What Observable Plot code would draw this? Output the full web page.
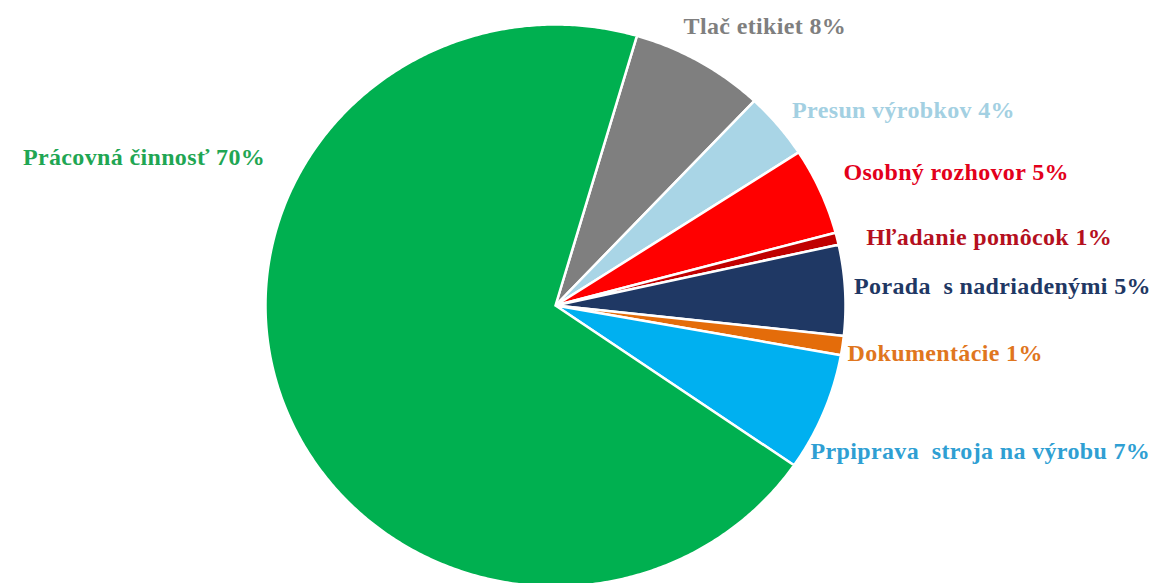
<!DOCTYPE html>
<html>
<head>
<meta charset="utf-8">
<script src="https://cdn.jsdelivr.net/npm/d3@7"></script>
<script src="https://cdn.jsdelivr.net/npm/@observablehq/plot@0.6"></script>
<style>
  html, body { margin: 0; padding: 0; background: #fff; }
  #chart { width: 1159px; height: 583px; overflow: hidden; }
  #chart text { letter-spacing: 0.35px; white-space: pre; }
</style>
</head>
<body>
<div id="chart"></div>
<script>
// Categories in clockwise order, starting from the gray slice
const categories = ["Tlač etikiet", "Presun výrobkov", "Osobný rozhovor", "Hľadanie pomôcok",
  "Porada  s nadriadenými", "Dokumentácie", "Prpiprava  stroja na výrobu", "Prácovná činnosť"];
// Displayed percentages (labels)
const labelPct = [8, 4, 5, 1, 5, 1, 7, 70];
// Slice shares (angles)
const shares = [7.5, 3.8, 5.0, 0.7, 5.2, 1.1, 6.8, 69.9];
const sliceColors = ["#7f7f7f", "#a9d5e6", "#ff0000", "#c00000", "#1f3864", "#e46c0a", "#00b0f0", "#00b050"];
const labelColors = ["#7f7f7f", "#a3d0e2", "#e3001b", "#b5101e", "#1f3864", "#e0761e", "#2f9fd3", "#1fa653"];

// Layout (not data)
const W = 1159, H = 583;
const cx = 555, cy = 305, rx = 290, ry = 281;
const startDeg = 16.3;
const labelNudge = [[-16, -35], [14, -15], [23, -19], [29, -1], [9, -4], [5, 8], [-13, 39], [-17, -242]];

const total = d3.sum(shares);
const slices = [];
const labels = [];
let a = startDeg;
categories.forEach((name, i) => {
  const span = shares[i] / total * 360;
  const a0 = a, a1 = a + span;
  const n = Math.max(4, Math.ceil(span / 0.5));
  slices.push({name, x: 0, y: 0});
  for (let k = 0; k <= n; k++) {
    const t = (a0 + (a1 - a0) * k / n) * Math.PI / 180;
    slices.push({name, x: Math.sin(t), y: Math.cos(t)});
  }
  slices.push({name, x: 0, y: 0});
  const mid = (a0 + a1) / 2 * Math.PI / 180;
  labels.push({
    name,
    text: `${name} ${labelPct[i]}%`,
    x: Math.sin(mid) + labelNudge[i][0] / rx,
    y: Math.cos(mid) - labelNudge[i][1] / ry,
    color: labelColors[i],
    anchor: i === categories.length - 1 ? "end" : "start"
  });
  a = a1;
});

const font = {fontSize: 24, fontWeight: "bold", fontFamily: "Liberation Serif, Times New Roman, serif"};

const chart = Plot.plot({
  width: W,
  height: H,
  margin: 0,
  x: {domain: [-cx / rx, (W - cx) / rx], axis: null},
  y: {domain: [-(H - cy) / ry, cy / ry], axis: null},
  color: {domain: categories, range: sliceColors},
  style: {background: "#fff"},
  marks: [
    Plot.line(slices, {x: "x", y: "y", z: "name", fill: "name", stroke: "#ffffff", strokeWidth: 2.5, strokeLinejoin: "round", curve: "linear"}),
    Plot.text(labels.filter(d => d.anchor === "start"), {x: "x", y: "y", text: "text", fill: "color", textAnchor: "start", lineAnchor: "middle", ...font}),
    Plot.text(labels.filter(d => d.anchor === "end"), {x: "x", y: "y", text: "text", fill: "color", textAnchor: "end", lineAnchor: "middle", ...font})
  ]
});
document.getElementById("chart").appendChild(chart);
</script>
</body>
</html>
